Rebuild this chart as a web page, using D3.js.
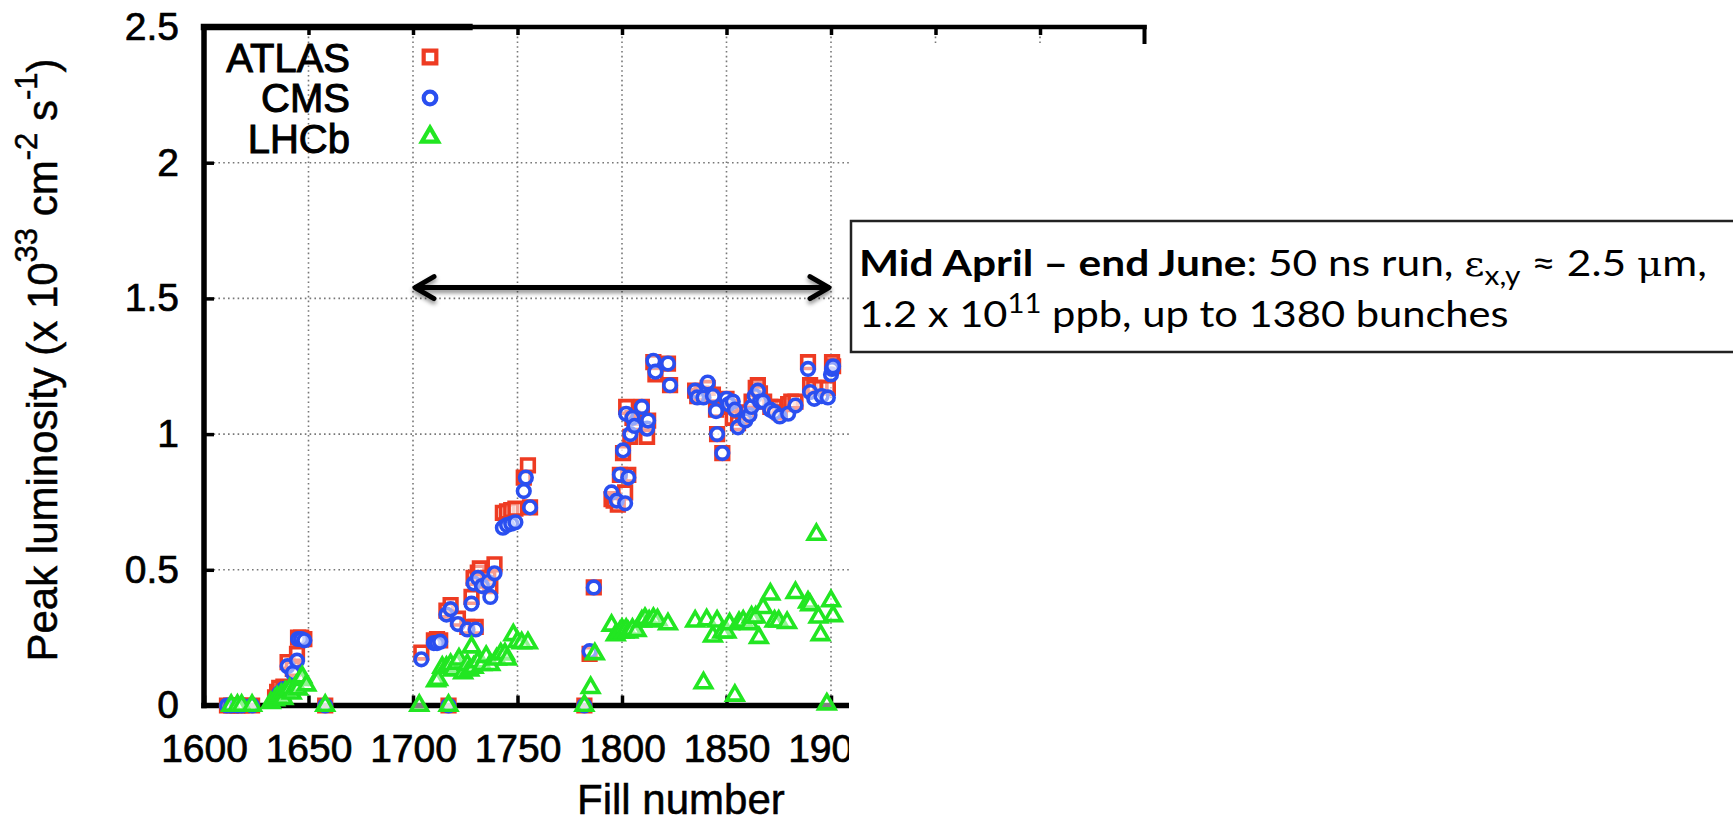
<!DOCTYPE html>
<html><head><meta charset="utf-8">
<script src="https://cdn.jsdelivr.net/npm/d3@7"></script>
<style>
html,body{margin:0;padding:0;background:#fff;}
svg{display:block;}
</style></head>
<body>
<svg id="chart" width="1733" height="825"></svg>
<script>
// ---------- data ----------
const xTicks = [1600,1650,1700,1750,1800,1850,1900,1950,2000];
const xTickLabels = ["1600","1650","1700","1750","1800","1850","1900","1950","2000"];
const yTicks = [0,0.5,1,1.5,2,2.5];
const yTickLabels = ["0","0.5","1","1.5","2","2.5"];
const seriesNames = ["ATLAS","CMS","LHCb"];
const seriesColors = ["#ee3b22","#2a4ff0","#22e622"];

const atlasData = [
 [1611,0],[1613,0],[1616,0],[1618,0],[1623,0],
 [1634,0.03],[1635,0.05],[1636,0.065],[1638,0.07],[1639,0.06],
 [1640,0.16],[1642.5,0.135],[1644.5,0.19],[1645,0.25],[1646.5,0.25],[1648,0.245],
 [1658,0],
 [1704,0.195],[1710,0.24],[1711.5,0.245],[1713,0.24],[1716,0.35],[1717,0],[1718,0.37],[1721.5,0.32],[1726,0.29],[1728,0.40],[1729,0.47],[1730,0.29],[1731,0.49],[1732,0.505],[1733,0.46],[1736,0.47],[1737,0.44],[1739,0.52],
 [1743,0.71],[1745,0.715],[1747,0.72],[1749,0.725],[1753,0.84],[1755,0.885],[1756,0.73],
 [1782,0],[1784.5,0.19],[1786.5,0.435],
 [1795,0.76],[1796,0.755],[1798,0.74],[1799,0.85],[1800.5,0.93],[1801.5,0.785],[1802,1.10],[1803,0.85],[1804,0.99],[1805,1.06],[1806,1.04],[1809.5,1.10],[1812,0.99],[1812.5,1.05],[1815,1.265],[1816,1.22],[1822,1.26],[1823,1.18],
 [1835,1.16],[1836,1.14],[1838,1.15],[1841,1.17],[1843.5,1.145],[1845,1.09],[1845.5,1.0],[1848,0.93],[1850,1.13],[1852,1.10],[1853,1.06],[1855.5,1.04],[1858,1.06],[1860,1.08],[1862,1.12],[1864,1.17],[1865,1.18],[1866,1.15],[1868,1.12],[1871,1.10],[1873,1.10],[1875.5,1.08],[1879.5,1.11],[1881,1.12],[1883,1.12],[1889,1.265],[1890,1.18],[1892,1.17],[1895,1.17],[1898.5,1.17],[1900.5,1.265],[1901,1.25]
];
const cmsData = [
 [1611,0],[1613,0],[1616,0],[1618,0],[1623,0],
 [1634,0.025],[1636,0.045],[1637,0.05],[1638,0.06],
 [1640,0.145],[1642.5,0.12],[1644.5,0.165],[1645,0.245],[1646.5,0.245],[1648,0.24],
 [1658,0],
 [1704,0.17],[1710,0.23],[1711.5,0.23],[1713,0.235],[1716,0.335],[1717,0],[1718,0.355],[1721.5,0.30],[1726,0.28],[1728,0.375],[1729,0.45],[1730,0.28],[1731,0.47],[1733,0.44],[1736,0.455],[1737,0.40],[1739,0.487],
 [1743,0.655],[1745,0.665],[1747,0.67],[1749,0.675],[1753,0.79],[1754,0.84],[1756,0.73],
 [1782,0],[1784.5,0.20],[1786.5,0.435],
 [1795,0.785],[1797.5,0.755],[1799,0.85],[1800.5,0.94],[1801.5,0.745],[1802,1.075],[1803,0.84],[1804,1.0],[1805,1.06],[1806,1.03],[1809.5,1.10],[1812,1.02],[1812.5,1.05],[1815,1.27],[1816,1.23],[1822,1.26],[1823,1.18],
 [1835,1.16],[1836,1.135],[1839,1.135],[1841,1.19],[1843.5,1.14],[1845,1.085],[1845.5,1.0],[1848,0.93],[1850,1.13],[1851,1.11],[1853,1.12],[1854,1.09],[1855.5,1.025],[1859,1.05],[1861,1.07],[1862,1.10],[1863.5,1.14],[1865,1.16],[1866,1.12],[1867.5,1.12],[1871,1.09],[1873,1.08],[1875.5,1.065],[1879.5,1.075],[1883,1.105],[1889,1.24],[1890,1.155],[1892,1.13],[1895.5,1.14],[1898.5,1.135],[1900,1.22],[1900.5,1.24],[1901,1.25],
 [2032,2.405]
];
const lhcbData = [
 [1613,0],[1616,0],[1618,0],[1623,0],
 [1632,0.01],[1634,0.02],[1635,0.03],[1637,0.04],[1638,0.025],[1639,0.05],[1641,0.06],[1642,0.045],[1644,0.07],[1645,0.06],[1646,0.095],[1647,0.105],[1649,0.075],
 [1658,0],
 [1703,0],[1711,0.09],[1712,0.095],[1714,0.14],[1716,0.14],[1717,0],[1718,0.15],[1719,0.13],[1721,0.155],[1722,0.17],[1724,0.12],[1726,0.15],[1727,0.13],[1728,0.215],[1729,0.14],[1731,0.16],[1733,0.15],[1735,0.18],[1737,0.15],[1740,0.17],[1742,0.19],[1744,0.19],[1745,0.17],[1748,0.26],[1750,0.235],[1752,0.23],[1755,0.23],
 [1782,0],[1785,0.065],[1787,0.19],
 [1795,0.295],[1797,0.26],[1799,0.27],[1800,0.28],[1801,0.27],[1802,0.28],[1803,0.27],[1805,0.28],[1807,0.275],[1809.5,0.31],[1811,0.32],[1813,0.31],[1815,0.32],[1817,0.315],[1822,0.30],
 [1835,0.31],[1839,0.083],[1840.5,0.315],[1843.5,0.255],[1845.5,0.31],[1848,0.27],[1850,0.27],[1851.5,0.30],[1854,0.037],[1856,0.305],[1858,0.31],[1861,0.30],[1862,0.325],[1864,0.325],[1865.5,0.25],[1867.5,0.36],[1871,0.41],[1873,0.31],[1875,0.31],[1879,0.305],[1883,0.415],[1889,0.38],[1890,0.37],[1893,0.63],[1894,0.325],[1895,0.26],[1898,0.005],[1900,0.385],[1901,0.33]
];
const arrowFills = [1700,1900];
const arrowLevel = 1.54;

// ---------- layout ----------
const svg = d3.select("#chart");
const L = 204, T = 27, R = 1144.5, B = 705.5;
const x = d3.scaleLinear().domain([1600,2050]).range([L,R]);
const y = d3.scaleLinear().domain([0,2.5]).range([B,T]);
const FONT = "'Liberation Sans', Arial, Helvetica, sans-serif";
const TXT_STROKE = 0.7;

const defs = svg.append("defs");
const f = defs.append("filter").attr("id","shadow").attr("x","-5%").attr("y","-100%").attr("width","110%").attr("height","300%");
f.append("feDropShadow").attr("dx",0).attr("dy",3).attr("stdDeviation",2.2)
 .attr("flood-color","#000").attr("flood-opacity",0.45);

// gridlines
const grid = svg.append("g");
grid.selectAll("line.vx").data(xTicks.filter(d=>d>1600)).join("line")
  .attr("x1",d=>x(d)).attr("x2",d=>x(d)).attr("y1",T).attr("y2",B)
  .attr("stroke","#777").attr("stroke-width",1.6).attr("stroke-dasharray","1.6,3.2");
grid.selectAll("line.hy").data(yTicks.filter(d=>d>0 && d<2.5)).join("line")
  .attr("x1",L).attr("x2",R).attr("y1",d=>y(d)).attr("y2",d=>y(d))
  .attr("stroke","#777").attr("stroke-width",1.6).attr("stroke-dasharray","1.6,3.2");

// axes
const xAxis = d3.axisBottom(x).tickValues(xTicks).tickFormat((d,i)=>xTickLabels[i])
  .tickSizeInner(-10).tickSizeOuter(0).tickPadding(29);
const gx = svg.append("g").attr("transform",`translate(0,${B})`).call(xAxis);
const xTop = d3.axisTop(x).tickValues(xTicks.filter(d=>d>1600)).tickFormat("").tickSizeInner(-8).tickSizeOuter(0);
const gxt = svg.append("g").attr("transform",`translate(0,${T})`).call(xTop);
const yAxis = d3.axisLeft(y).tickValues(yTicks).tickFormat((d,i)=>yTickLabels[i])
  .tickSizeInner(-10).tickSizeOuter(0).tickPadding(25);
const gy = svg.append("g").attr("transform",`translate(${L},0)`).call(yAxis);
[gx,gxt,gy].forEach(g=>{
  g.select(".domain").remove();
  g.selectAll(".tick line").attr("stroke","#000").attr("stroke-width",3.5);
  g.selectAll("text").attr("font-family",FONT).attr("font-size",39).attr("fill","#000")
    .attr("stroke","#000").attr("stroke-width",TXT_STROKE);
});

// frame
const frame = svg.append("g").attr("stroke","#000").attr("stroke-linecap","square");
frame.append("line").attr("x1",L).attr("x2",L).attr("y1",T).attr("y2",B).attr("stroke-width",5.5);
frame.append("line").attr("x1",L).attr("x2",R).attr("y1",B).attr("y2",B).attr("stroke-width",5.5);
frame.append("line").attr("x1",L).attr("x2",x(1727)).attr("y1",T).attr("y2",T).attr("stroke-width",6.5);
frame.append("line").attr("x1",x(1727)).attr("x2",R).attr("y1",T).attr("y2",T).attr("stroke-width",4.5);
frame.append("line").attr("x1",R).attr("x2",R).attr("y1",T).attr("y2",B).attr("stroke-width",4);

// markers
const shapes = [d3.symbolSquare, d3.symbolCircle, d3.symbolTriangle];
const sizes = [160, 125, 115];
const allData = [atlasData, cmsData, lhcbData];
allData.forEach((data,i)=>{
  const sym = d3.symbol().type(shapes[i]).size(sizes[i]);
  svg.append("g").selectAll("path").data(data).join("path")
    .attr("d",sym)
    .attr("transform",d=>`translate(${x(d[0])},${y(d[1])})`)
    .attr("fill","#fff").attr("fill-opacity",0.5)
    .attr("stroke",seriesColors[i]).attr("stroke-width",3.6);
});

// legend
const leg = svg.append("g");
const legY = [72,112,153], legMarkY = [57,98,137];
seriesNames.forEach((n,i)=>{
  leg.append("text").attr("x",350).attr("y",legY[i]).attr("text-anchor","end")
    .attr("font-family",FONT).attr("font-size",40).attr("fill","#000")
    .attr("stroke","#000").attr("stroke-width",TXT_STROKE+0.3).text(n);
  leg.append("path").attr("d",d3.symbol().type(shapes[i]).size(sizes[i])())
    .attr("transform",`translate(430,${legMarkY[i]})`)
    .attr("fill","#fff").attr("fill-opacity",0.5)
    .attr("stroke",seriesColors[i]).attr("stroke-width",4.2);
});

// axis titles
const yt = svg.append("text").attr("transform","translate(57,360) rotate(-90)")
  .attr("text-anchor","middle").attr("font-family",FONT).attr("font-size",42).attr("fill","#000")
  .attr("stroke","#000").attr("stroke-width",TXT_STROKE-0.2);
yt.append("tspan").text("Peak luminosity (x 10");
yt.append("tspan").attr("font-size",31).attr("dy",-20).text("33");
yt.append("tspan").attr("dy",20).text(" cm");
yt.append("tspan").attr("font-size",31).attr("dy",-20).text("-2");
yt.append("tspan").attr("dy",20).text(" s");
yt.append("tspan").attr("font-size",31).attr("dy",-20).text("-1");
yt.append("tspan").attr("dy",20).text(")");

svg.append("text").attr("x",577).attr("y",814).attr("font-family",FONT).attr("font-size",42)
  .attr("fill","#000").attr("stroke","#000").attr("stroke-width",TXT_STROKE-0.2).text("Fill number");

// white cover over the right part of the original plot
svg.append("rect").attr("x",849).attr("y",44).attr("width",900).attr("height",800).attr("fill","#fff");

// arrow
const ay = y(arrowLevel), ax1 = x(arrowFills[0]), ax2 = x(arrowFills[1]);
const ar = svg.append("g").attr("filter","url(#shadow)").attr("stroke","#000").attr("stroke-width",5)
  .attr("fill","none").attr("stroke-linecap","round").attr("stroke-linejoin","round");
ar.append("line").attr("x1",ax1+3).attr("x2",ax2-3).attr("y1",ay).attr("y2",ay);
ar.append("polyline").attr("points",`${ax1+21},${ay-11} ${ax1+2},${ay} ${ax1+21},${ay+11}`);
ar.append("polyline").attr("points",`${ax2-21},${ay-11} ${ax2-2},${ay} ${ax2-21},${ay+11}`);

// annotation box
svg.append("rect").attr("x",851).attr("y",221).attr("width",900).attr("height",131)
  .attr("fill","#fff").attr("stroke","#222").attr("stroke-width",2.5);
const BF = "Lato, 'Open Sans', sans-serif";
function fitLine(t, target){
  const w = t.node().getComputedTextLength();
  const bx = +t.attr("data-x"), by = +t.attr("data-y");
  t.attr("transform",`translate(${bx},${by}) scale(${target/w},1)`);
}
const l1 = svg.append("text").attr("data-x",859).attr("data-y",276).attr("x",0).attr("y",0)
  .attr("font-family",BF).attr("font-size",37).attr("fill","#000");
l1.append("tspan").attr("font-weight","bold").text("Mid April \u2013 end June");
l1.append("tspan").text(": 50 ns run, ");
l1.append("tspan").attr("font-family","'DejaVu Serif', serif").attr("font-size",34).text("\u03b5");
l1.append("tspan").attr("font-size",26).attr("dy",9).text("x,y");
l1.append("tspan").attr("dy",-9).text(" \u2248 2.5 ");
l1.append("tspan").attr("font-family","'DejaVu Serif', serif").attr("font-size",34).text("\u03bc");
l1.append("tspan").text("m,");
fitLine(l1, 848);
const l2 = svg.append("text").attr("data-x",859).attr("data-y",327).attr("x",0).attr("y",0)
  .attr("font-family",BF).attr("font-size",37).attr("fill","#000");
l2.append("tspan").text("1.2 x 10");
l2.append("tspan").attr("font-size",26).attr("dy",-14).text("11");
l2.append("tspan").attr("dy",14).text(" ppb, up to 1380 bunches");
fitLine(l2, 650);
</script>
</body></html>
